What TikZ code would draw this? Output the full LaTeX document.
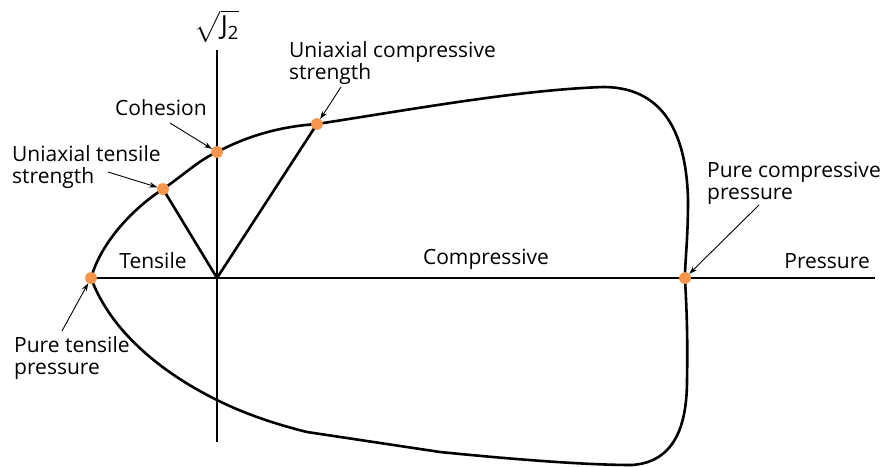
\documentclass[tikz,border=0pt]{standalone}
\usepackage{amsmath}
\usepackage{fontspec}
\setmainfont{Open Sans}
\usetikzlibrary{arrows.meta}
\definecolor{dotorange}{HTML}{F8954D}

\begin{document}
\begin{tikzpicture}[x=1pt,y=-1pt,font=\fontsize{21}{22}\selectfont,
  lbl/.style={align=left,inner sep=0pt},
  pt/.style={circle,fill=dotorange,inner sep=0pt,minimum size=11.5pt},
  pointer/.style={line width=.9pt,-{Stealth[length=8pt,width=5.5pt]}},
  heavy/.style={line width=2.6pt}]
\useasboundingbox (0,0) rectangle (880,466);
% axes
\coordinate (O) at (217,278);
\coordinate (ytop) at (217,50);
\coordinate (ybot) at (217,442);
\coordinate (xleft) at (91,278);
\coordinate (xright) at (875,278);
\draw[heavy] (ytop) -- (ybot);
\draw[heavy] (xleft) -- (xright);
\node[inner sep=0pt] (yl) at (217,26) {\scalebox{1.25}{$\sqrt{\text{J}_{\text{2}}}$}};
% yield surface
\draw[heavy] (91,278) .. controls (100,246) and (128,212) .. (163,189)
  .. controls (181,177) and (199,160) .. (217,152)
  .. controls (240,140) and (272,127) .. (317,124)
  .. controls (420,108) and (520,90) .. (603,87)
  .. controls (650,87) and (686,115) .. (688,200)
  .. controls (688,240) and (685,260) .. (685,278)
  .. controls (686,300) and (688,330) .. (687,380)
  .. controls (687,425) and (675,462) .. (632,465)
  .. controls (580,465) and (500,458) .. (440,452)
  -- (307,432)
  .. controls (275,424) and (245,414) .. (217,400)
  .. controls (160,372) and (110,330) .. (91,278);
% points
\node[pt] (ptens) at (91,278) {};
\node[pt] (utens) at (163,189) {};
\node[pt] (coh) at (217,152) {};
\node[pt] (ucomp) at (317,124) {};
\node[pt] (pcomp) at (685,278) {};
\draw[heavy] (O) -- (utens.center);
\draw[heavy] (O) -- (ucomp.center);
\foreach \n in {ptens,utens,coh,ucomp,pcomp}{\node[pt] at (\n) {};}
% labels
\node[lbl,anchor=west] (ucl) at (289,63.5) {Uniaxial compressive\\strength};
\node[lbl,anchor=west] (cohl) at (115,108) {Cohesion};
\node[lbl,anchor=west] (utl) at (12,167.5) {Uniaxial tensile\\strength};
\node[lbl,anchor=west] (pcl) at (707,183.5) {Pure compressive\\pressure};
\node[lbl,anchor=west] (ptl) at (14,358.5) {Pure tensile\\pressure};
\node[lbl,anchor=center] (tl) at (153,261) {Tensile};
\node[lbl,anchor=center] (cl) at (486,259) {Compressive};
\node[lbl,anchor=east] (prl) at (870,261) {Pressure};
% pointers
\coordinate (a1) at (341,87);
\coordinate (a2) at (170,123);
\coordinate (a3) at (108,172);
\coordinate (a4) at (759,205);
\coordinate (a5) at (62,331);
\draw[pointer] (a1) -- (ucomp);
\draw[pointer] (a2) -- (coh);
\draw[pointer] (a3) -- (utens);
\draw[pointer] (a4) -- (pcomp);
\draw[pointer] (a5) -- (ptens);
\end{tikzpicture}
\end{document}
